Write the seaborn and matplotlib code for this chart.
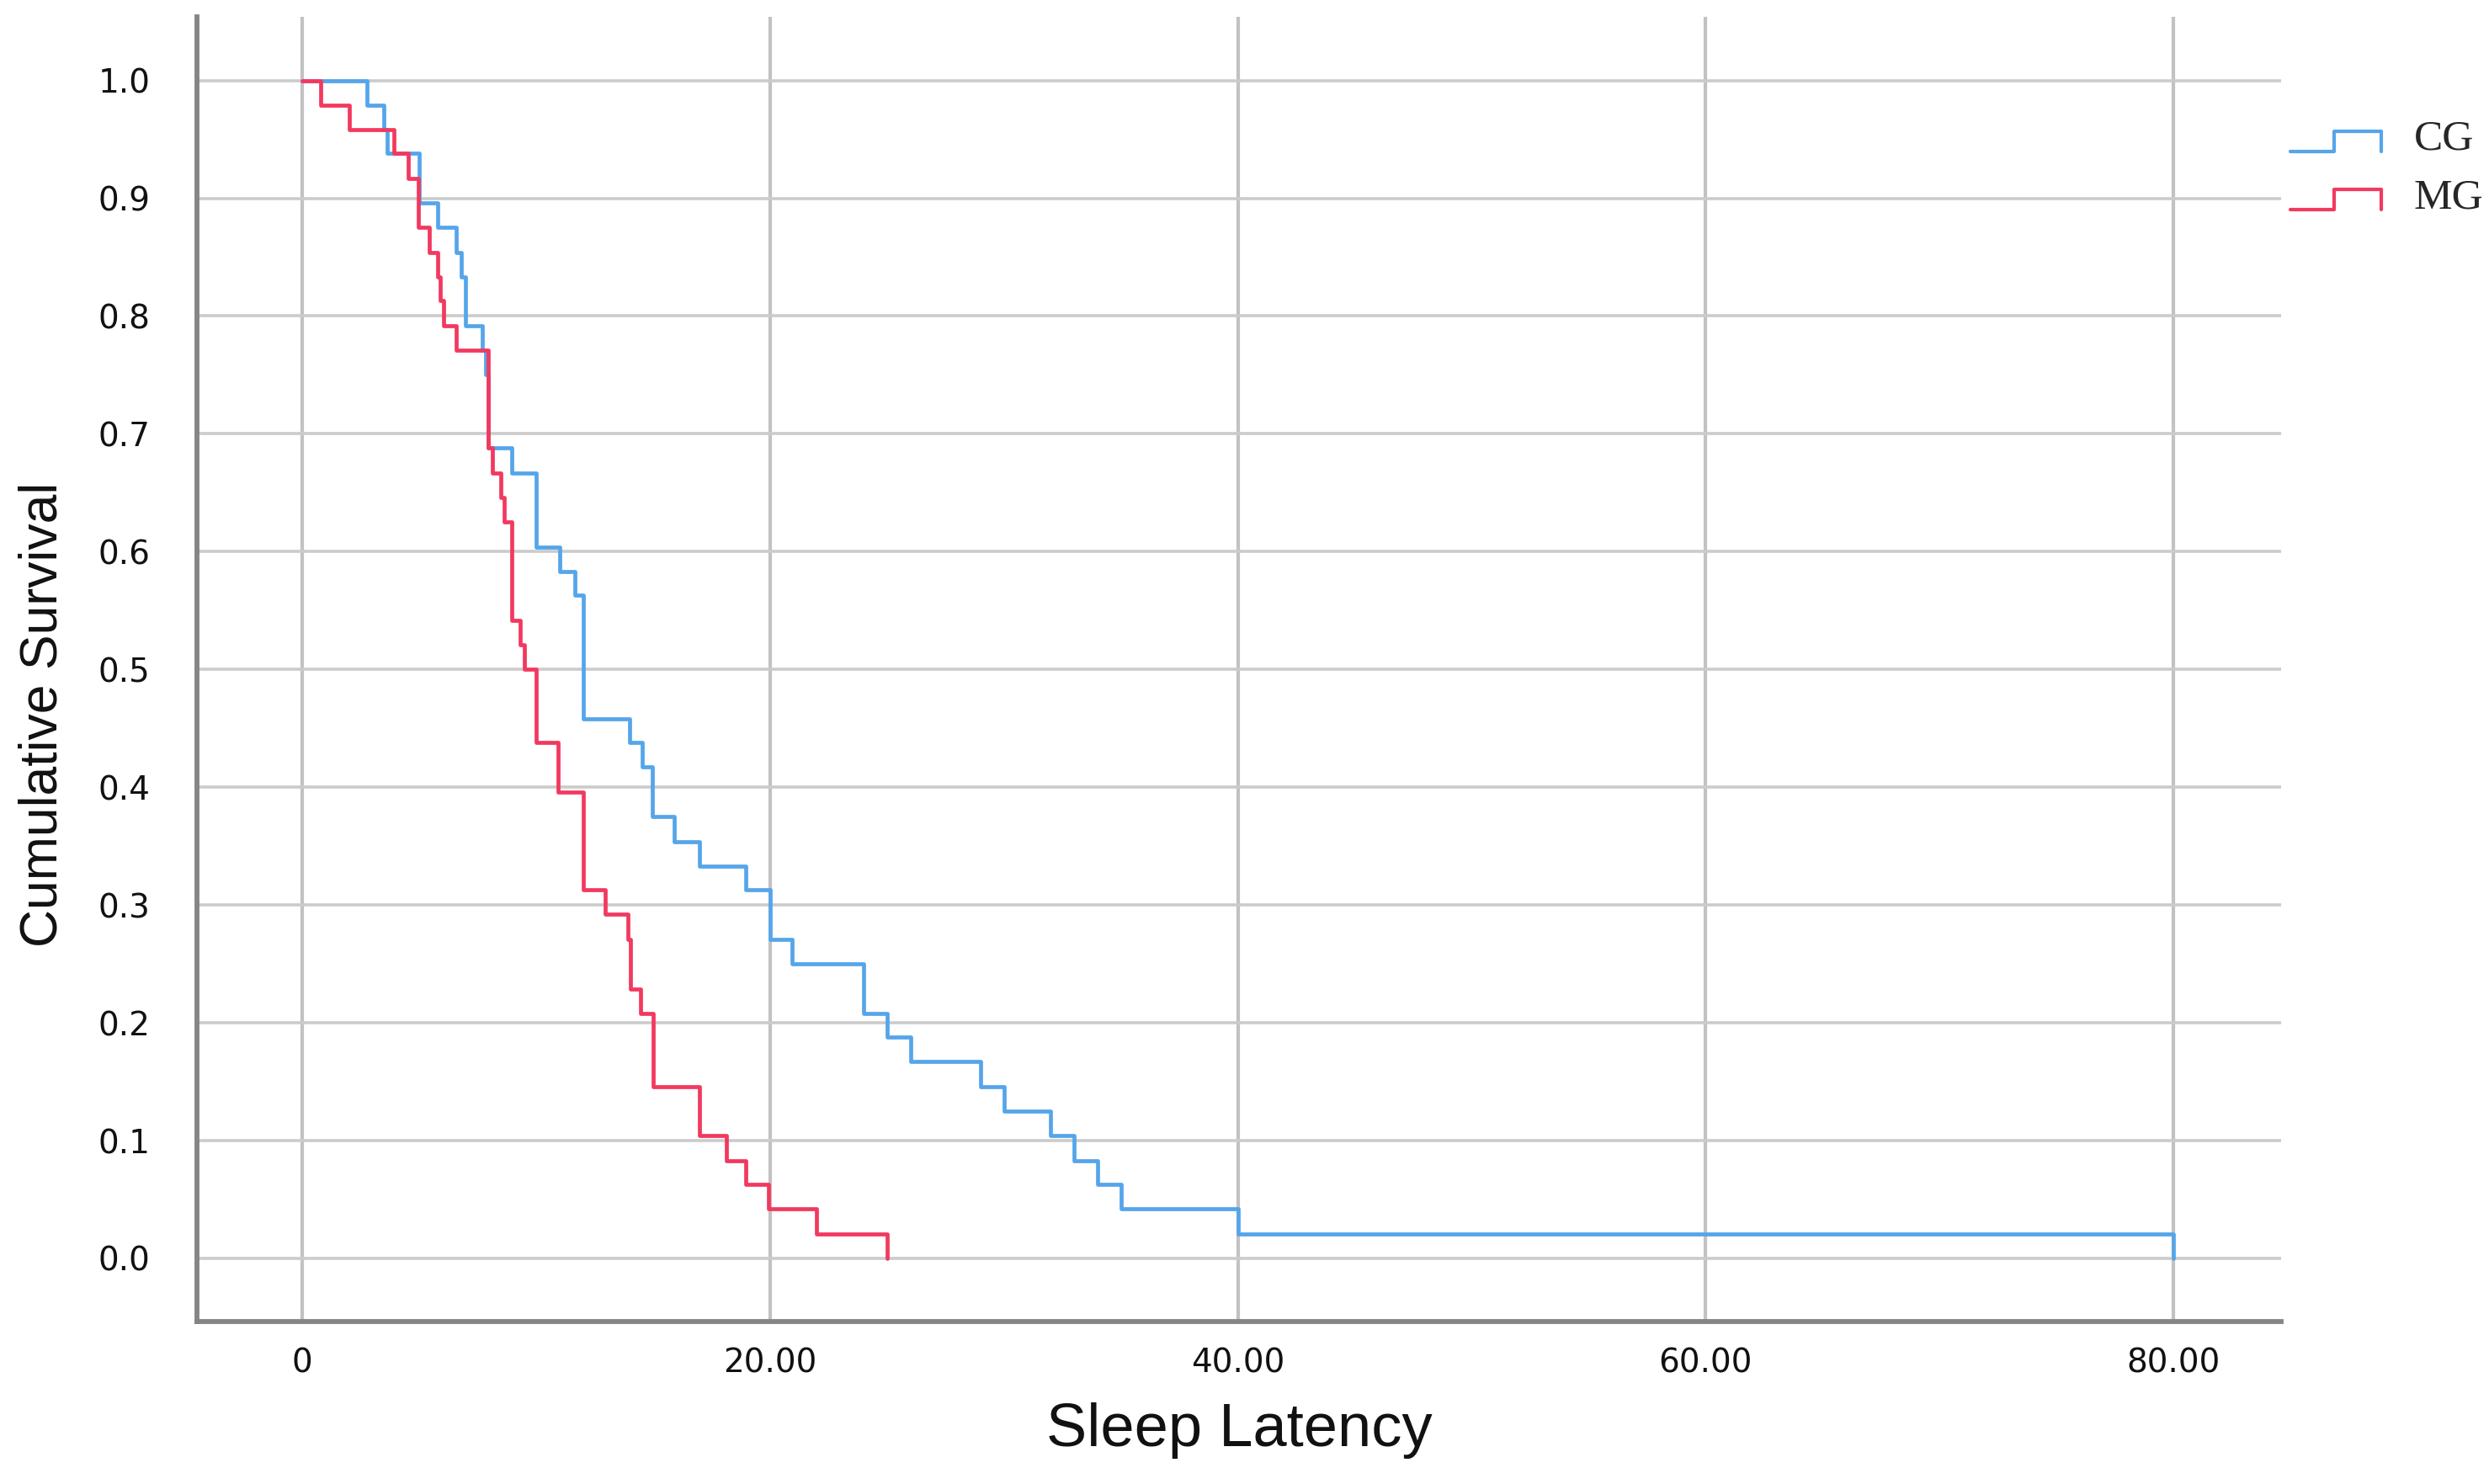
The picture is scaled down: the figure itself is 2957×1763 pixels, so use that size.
import seaborn as sns
import matplotlib.pyplot as plt
import pandas as pd
from matplotlib.legend_handler import HandlerBase
from matplotlib.lines import Line2D

# Kaplan-Meier step values
cg_time = [0, 2.77, 3.49, 3.63, 5.01, 5.79, 6.6, 6.8, 6.99, 7.71, 7.85, 7.95, 8.97, 9.99,
           11.0, 11.67, 12.03, 14.0, 14.52, 14.98, 15.9, 17.0, 18.98, 20.0, 20.95, 24.0,
           25.0, 26.0, 29.0, 30.0, 32.0, 33.0, 34.0, 35.0, 40.0, 80.0]
cg_surv = [1.0, .979, .958, .938, .896, .875, .854, .833, .792, .771, .750, .688, .667, .604,
           .583, .563, .458, .438, .417, .375, .354, .333, .313, .271, .250, .208,
           .188, .167, .146, .125, .104, .083, .063, .042, .021, 0.0]

mg_time = [0, 0.78, 2.01, 3.93, 4.53, 4.95, 5.43, 5.79, 5.91, 6.03, 6.57, 7.95, 8.13, 8.49,
           8.62, 8.97, 9.33, 9.51, 9.99, 10.95, 12.03, 12.95, 13.93, 14.03, 14.48, 15.02,
           17.0, 18.14, 18.98, 19.94, 22.0, 25.0]
mg_surv = [1.0, .979, .958, .938, .917, .875, .854, .833, .813, .792, .771, .688, .667, .646,
           .625, .542, .521, .500, .438, .396, .313, .292, .271, .229, .208, .146,
           .104, .083, .063, .042, .021, 0.0]

groups = ["CG", "MG"]
x_ticks = [0, 20, 40, 60, 80]
x_ticklabels = ["0", "20.00", "40.00", "60.00", "80.00"]
y_ticks = [0.0, 0.1, 0.2, 0.3, 0.4, 0.5, 0.6, 0.7, 0.8, 0.9, 1.0]

df = pd.concat([
    pd.DataFrame({"time": cg_time, "surv": cg_surv, "group": "CG"}),
    pd.DataFrame({"time": mg_time, "surv": mg_surv, "group": "MG"}),
])

sns.set_style("white")

W, H = 2957, 1763
fig = plt.figure(figsize=(W / 100, H / 100), dpi=100)
ax = fig.add_axes([234 / W, 1 - 1570 / H, (2710 - 234) / W, (1570 - 20) / H])

palette = {"CG": "#55a5ea", "MG": "#f2395f"}
sns.lineplot(data=df, x="time", y="surv", hue="group", palette=palette,
             estimator=None, sort=True, drawstyle="steps-post", lw=3.4,
             legend=False, ax=ax)

ax.set_xlim(-4.5, 84.6)
ax.set_ylim(-0.0536, 1.054)
ax.set_xticks(x_ticks)
ax.set_xticklabels(x_ticklabels)
ax.set_yticks(y_ticks)
ax.set_yticklabels([f"{v:.1f}" for v in y_ticks])
ax.tick_params(axis="both", length=0, labelsize=28, colors="#111111")
ax.tick_params(axis="y", pad=40)
ax.tick_params(axis="x", pad=22)

ax.set_axisbelow(True)
ax.xaxis.grid(True, color="#c2c2c2", lw=3.0)
ax.yaxis.grid(True, color="#cbcbcb", lw=2.6)

for s in ["top", "right"]:
    ax.spines[s].set_visible(False)
for s in ["left", "bottom"]:
    ax.spines[s].set_color("#858585")
    ax.spines[s].set_linewidth(4.2)

ax.set_xlabel("Sleep Latency", fontsize=52, color="#111111",
              family=["Liberation Sans", "DejaVu Sans"])
ax.xaxis.set_label_coords(0.5, -0.062)
ax.set_ylabel("Cumulative Survival", fontsize=45, color="#111111",
              family=["Liberation Sans", "DejaVu Sans"])
ax.yaxis.set_label_coords(-0.062, 0.465)


class StepHandler(HandlerBase):
    def create_artists(self, legend, orig_handle, xdescent, ydescent, width, height,
                       fontsize, trans):
        x0, y0 = -xdescent, -ydescent
        xm = x0 + 0.48 * width
        lo, hi = y0 - 0.05 * height, y0 + 0.62 * height
        line = Line2D([x0, xm, xm, x0 + width, x0 + width], [lo, lo, hi, hi, lo],
                      color=orig_handle.get_color(), lw=orig_handle.get_linewidth())
        line.set_transform(trans)
        return [line]


handles = [Line2D([], [], color=palette[g], lw=3.0) for g in groups]
fig.legend(handles, groups, loc="upper left", bbox_to_anchor=(2721 / W, 1 - 142 / H),
           frameon=False, handler_map={Line2D: StepHandler()},
           prop={"family": ["Liberation Serif", "DejaVu Serif"], "size": 37},
           handlelength=2.1, handletextpad=0.75, labelspacing=0.43,
           borderpad=0, borderaxespad=0)

fig.savefig("out.png", dpi=100)
